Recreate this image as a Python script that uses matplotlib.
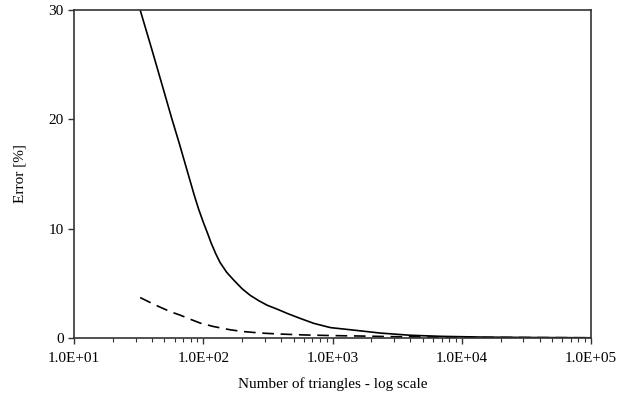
import matplotlib
matplotlib.use("Agg")
import matplotlib.pyplot as plt
from matplotlib.ticker import FuncFormatter, LogLocator

# Error vs. number of triangles
solid_x = [32.5, 40, 49, 57, 66, 73, 79, 85, 92, 100, 107, 115, 125, 135, 152, 172, 200, 231,
           270, 312, 380, 446, 560, 716, 964, 1460, 2350, 4000, 7000, 15000, 40000, 100000]
solid_y = [30.0, 26.4, 22.8, 20.1, 17.6, 15.8, 14.4, 13.1, 11.8, 10.6, 9.7, 8.7, 7.7, 6.9, 6.0, 5.3,
           4.5, 3.9, 3.4, 3.0, 2.6, 2.25, 1.8, 1.34, 0.95, 0.72, 0.45, 0.25, 0.15, 0.08, 0.04, 0.02]

dashed_x = [32.5, 42, 55.5, 66, 80, 95, 120, 162, 200, 280, 395, 600, 1000, 1650, 3000, 10000, 100000]
dashed_y = [3.7, 3.05, 2.41, 2.1, 1.7, 1.36, 1.05, 0.75, 0.6, 0.45, 0.36, 0.28, 0.22, 0.18, 0.12, 0.06, 0.02]

plt.rcParams['font.family'] = ['Liberation Serif', 'DejaVu Serif']

fig = plt.figure(figsize=(6.2, 3.95), dpi=100)
ax = fig.add_axes([74 / 620, 1 - 338 / 395, (591 - 74) / 620, (338 - 10) / 395])

ax.plot(solid_x, solid_y, color='black', lw=1.2)
ax.plot(dashed_x, dashed_y, color='black', lw=1.2, ls=(0, (7, 4)))

ax.set_xscale('log')
ax.set_xlim(10, 1e5)
ax.set_ylim(0, 30)
ax.set_yticks([0, 10, 20, 30])

ax.xaxis.set_major_locator(LogLocator(base=10, numticks=10))
ax.xaxis.set_minor_locator(LogLocator(base=10, subs=range(2, 10), numticks=20))
ax.xaxis.set_major_formatter(FuncFormatter(lambda v, p: "%.1E" % v))

for s in ax.spines.values():
    s.set_color('#333333')
    s.set_linewidth(1.2)

ax.tick_params(axis='both', which='major', labelsize=11, length=4, width=1, color='#333333')
ax.tick_params(axis='x', which='minor', length=3, width=0.8, color='#333333')
ax.tick_params(axis='x', pad=6)

ax.set_ylabel("Error [%]", fontsize=11, labelpad=16)
ax.set_xlabel("Number of triangles - log scale", fontsize=11, labelpad=9)

fig.savefig("out.png", dpi=100)
